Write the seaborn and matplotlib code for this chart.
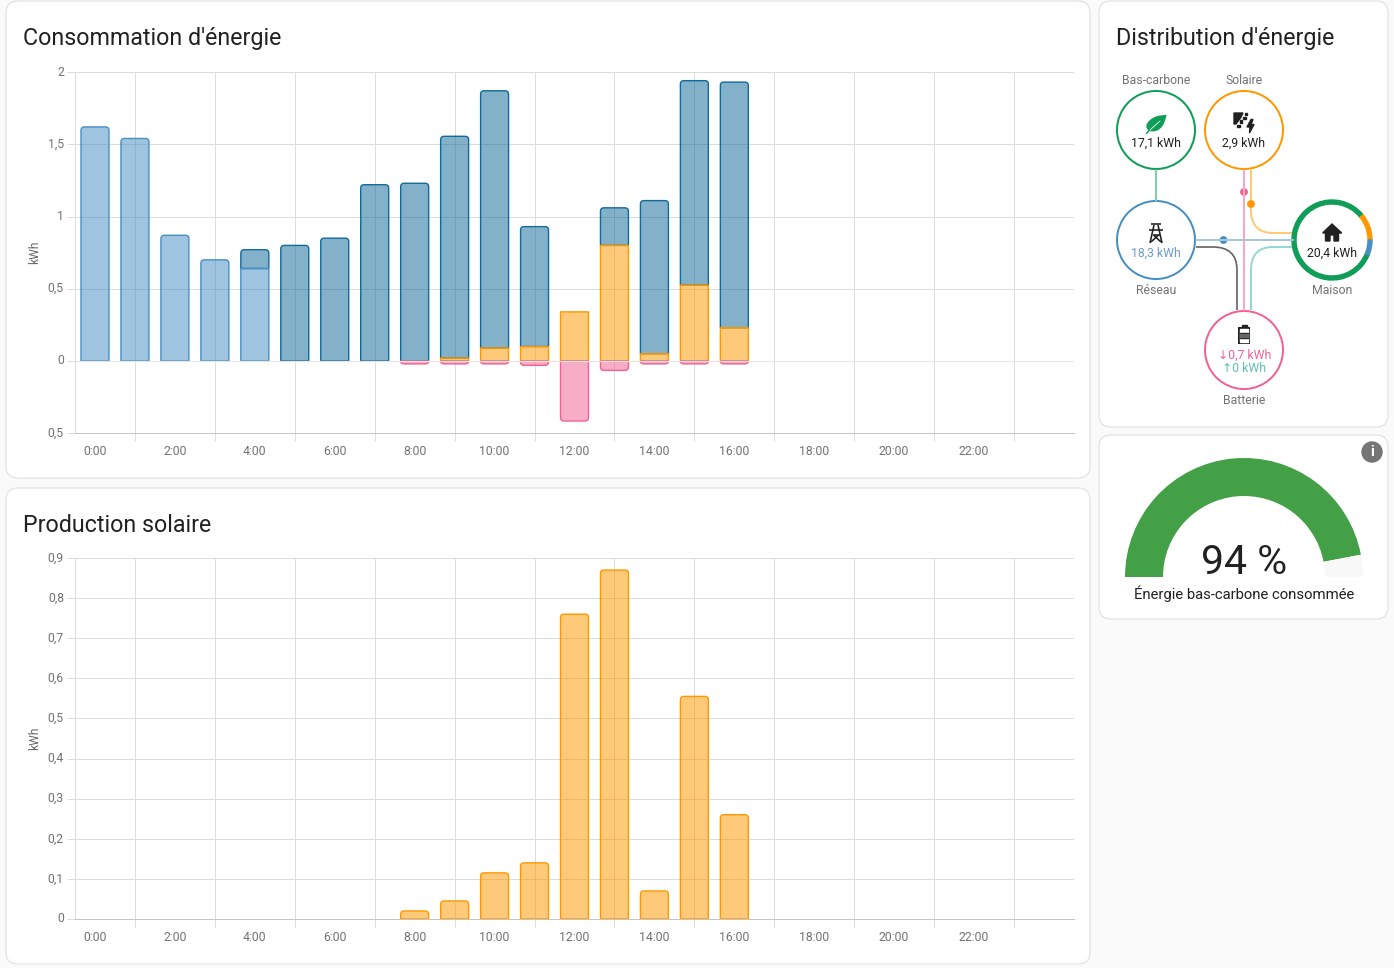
"""Energy dashboard: consumption and solar bars, distribution card and gauge."""

from __future__ import annotations

import matplotlib

matplotlib.use("Agg")

import matplotlib.pyplot as plt
import numpy as np
import pandas as pd
import seaborn as sns
from matplotlib.colors import to_rgba
from matplotlib.patches import Circle, FancyBboxPatch, PathPatch, Polygon, Rectangle, Wedge
from matplotlib.path import Path
from matplotlib.transforms import ScaledTranslation

HOURS = list(range(25))
TICK_HOURS = list(range(0, 24, 2))

# kWh per hour (0:00 to 16:00)
grid_light = [1.62, 1.54, 0.87, 0.70, 0.64, 0, 0, 0, 0, 0, 0, 0, 0, 0, 0, 0, 0]
grid_dark = [0, 0, 0, 0, 0.13, 0.80, 0.85, 1.22, 1.23, 1.535, 1.78, 0.83, 0, 0.26, 1.06, 1.415, 1.70]
solar_used = [0, 0, 0, 0, 0, 0, 0, 0, 0, 0.02, 0.09, 0.10, 0.34, 0.80, 0.05, 0.525, 0.23]
battery_in = [0, 0, 0, 0, 0, 0, 0, 0, -0.02, -0.02, -0.02, -0.03, -0.415, -0.065, -0.02, -0.02, -0.02]
solar_total = [0, 0, 0, 0, 0, 0, 0, 0, 0.02, 0.045, 0.115, 0.14, 0.76, 0.87, 0.07, 0.555, 0.26]

usage_ticks = [-0.5, 0, 0.5, 1, 1.5, 2]
usage_tick_labels = ["0,5", "0", "0,5", "1", "1,5", "2"]
solar_ticks = [0, 0.1, 0.2, 0.3, 0.4, 0.5, 0.6, 0.7, 0.8, 0.9]
solar_tick_labels = ["0", "0,1", "0,2", "0,3", "0,4", "0,5", "0,6", "0,7", "0,8", "0,9"]

low_carbon_share = 94

BLUE = "#488fc2"
DARK_BLUE = "#126a9a"
ORANGE = "#ff9800"
PINK = "#f06292"
GREEN = "#0f9d58"
GRID = "#dcdcdc"
TEXT = "#212121"
MUTED = "#727272"
W, H = 1394, 968

sns.set_theme(style="white")
plt.rcParams["font.family"] = ["Roboto", "DejaVu Sans"]


def px(size: float) -> float:
    return size * 0.72


def rounded_bar(x0, x1, y0, y1, rx, ry) -> Path:
    # corners rounded on the y1 side only
    sign = 1 if y1 > y0 else -1
    ry = min(ry, abs(y1 - y0)) * sign
    verts = [(x0, y0), (x0, y1 - ry), (x0, y1), (x0 + rx, y1), (x1 - rx, y1), (x1, y1), (x1, y1 - ry), (x1, y0), (x0, y0)]
    codes = [Path.MOVETO, Path.LINETO, Path.CURVE3, Path.CURVE3, Path.LINETO, Path.CURVE3, Path.CURVE3, Path.LINETO, Path.CLOSEPOLY]
    return Path(verts, codes)


def draw_layer(ax, values, bottoms, color, ry_unit, rounded=None, zorder=2):
    values = np.array(values, dtype=float)
    bottoms = np.array(bottoms, dtype=float)
    hours = np.arange(len(values))
    mask = values != 0
    frame = pd.DataFrame({"hour": hours[mask], "kwh": values[mask]})
    before = len(ax.patches)
    sns.barplot(data=frame, x="hour", y="kwh", order=HOURS, width=0.7, color=color, errorbar=None, ax=ax)
    flags = rounded[mask] if rounded is not None else np.ones(mask.sum(), dtype=bool)
    for bar, flag, base in zip(list(ax.patches[before:]), flags, bottoms[mask]):
        x0, x1 = bar.get_x(), bar.get_x() + bar.get_width()
        y0, y1 = base, base + bar.get_height()
        bar.remove()
        radius = 3.5 if flag else 0
        path = rounded_bar(x0, x1, y0, y1, radius / 40, radius * ry_unit)
        ax.add_patch(PathPatch(path, facecolor=to_rgba(color, 0.52), edgecolor=color, linewidth=px(1.4), zorder=zorder))


def style_axis(ax, ticks, labels, ymin, ymax):
    ax.set_facecolor("none")
    ax.set_xlim(-0.5, 24.5)
    ax.set_ylim(ymin, ymax)
    ax.set_xticks(TICK_HOURS)
    ax.set_xticklabels([f"{h}:00" for h in TICK_HOURS], fontsize=px(12.2), color=MUTED)
    ax.set_xticks(range(1, 24, 2), minor=True)
    ax.set_yticks(ticks)
    ax.set_yticklabels(labels, fontsize=px(12.2), color=MUTED)
    ax.tick_params(axis="x", which="major", length=0, pad=px(12))
    ax.tick_params(axis="x", which="minor", length=px(8), width=px(1), color=GRID, bottom=True)
    ax.tick_params(axis="y", length=px(8), width=px(1), color=GRID, left=True, pad=px(3))
    lift = ScaledTranslation(0, 1.5 / 100, ax.figure.dpi_scale_trans)
    for label in ax.get_yticklabels():
        label.set_transform(label.get_transform() + lift)
    ax.set_axisbelow(True)
    ax.grid(True, axis="y", which="major", color=GRID, linewidth=px(1))
    ax.grid(True, axis="x", which="minor", color=GRID, linewidth=px(1))
    ax.grid(False, axis="x", which="major")
    ax.set_xlabel("")
    ax.set_ylabel("kWh", fontsize=px(12), color="#666666", labelpad=0)
    ax.yaxis.set_label_coords(-34 / 999, 0.5)
    for side in ("top", "right"):
        ax.spines[side].set_visible(False)
    ax.spines["left"].set_color(GRID)
    ax.spines["left"].set_linewidth(px(1))
    ax.spines["bottom"].set_color("#c4c4c4")
    ax.spines["bottom"].set_linewidth(px(1))


def card(bg, x0, y0, x1, y1):
    r = 12
    bg.add_patch(FancyBboxPatch((x0 + r, y0 + r), x1 - x0 - 2 * r, y1 - y0 - 2 * r, boxstyle=f"round,pad={r}", facecolor="white", edgecolor="#e2e2e2", linewidth=px(1.2)))


def flow(bg, points, color, lw=2.0):
    # line, quadratic corner, line
    a, corner_in, ctrl, corner_out, b = points
    path = Path([a, corner_in, ctrl, corner_out, b], [Path.MOVETO, Path.LINETO, Path.CURVE3, Path.CURVE3, Path.LINETO])
    bg.add_patch(PathPatch(path, facecolor="none", edgecolor=color, linewidth=px(lw)))


figure = plt.figure(figsize=(W / 100, H / 100), dpi=100, facecolor="#fafafa")
bg = figure.add_axes([0, 0, 1, 1], zorder=0)
bg.set_xlim(0, W)
bg.set_ylim(H, 0)
bg.axis("off")

card(bg, 6, 1, 1090, 478)
card(bg, 6, 488, 1090, 964)
card(bg, 1099, 1, 1388, 427)
card(bg, 1099, 435, 1388, 619)

bg.text(23, 39, "Consommation d'énergie", fontsize=px(23.3), color=TEXT, va="center")
bg.text(23, 526, "Production solaire", fontsize=px(23.3), color=TEXT, va="center")
bg.text(1116, 39, "Distribution d'énergie", fontsize=px(23.3), color=TEXT, va="center")

# consumption chart
usage_ax = figure.add_axes([75 / W, 1 - 433.25 / H, 999 / W, 361.25 / H], zorder=1)
dark = np.array(grid_dark)
light = np.array(grid_light)
solar = np.array(solar_used)
zeros = np.zeros(len(light))
draw_layer(usage_ax, dark, light + solar, DARK_BLUE, 1 / 144.5, zorder=2)
draw_layer(usage_ax, light, zeros, BLUE, 1 / 144.5, rounded=dark == 0, zorder=3)
draw_layer(usage_ax, solar, zeros, ORANGE, 1 / 144.5, rounded=np.zeros(len(solar), dtype=bool), zorder=3)
draw_layer(usage_ax, battery_in, zeros, PINK, 1 / 144.5, zorder=3)
style_axis(usage_ax, usage_ticks, usage_tick_labels, -0.5, 2)
usage_ax.axhline(0, color="#e6e6e6", linewidth=px(1.2), zorder=4)

# solar chart
solar_ax = figure.add_axes([75 / W, 1 - 919 / H, 999 / W, 361 / H], zorder=1)
draw_layer(solar_ax, solar_total, zeros, ORANGE, 1 / 401)
style_axis(solar_ax, solar_ticks, solar_tick_labels, 0, 0.9)

# distribution card, everything in pixel coordinates
over = figure.add_axes([0, 0, 1, 1], zorder=2)
over.set_xlim(0, W)
over.set_ylim(H, 0)
over.axis("off")
over.patch.set_alpha(0)

over.plot([1156, 1156], [170, 201], color="#7fcfa8", linewidth=px(2))
over.plot([1244, 1244], [170, 310], color="#f8a8c4", linewidth=px(2))
flow(over, [(1251, 170), (1251, 210), (1251, 233), (1273, 233), (1293, 233)], "#ffc977")
flow(over, [(1196, 247), (1213, 247), (1237, 247), (1237, 270), (1237, 310)], "#666666", lw=1.7)
flow(over, [(1251, 310), (1251, 270), (1251, 247), (1273, 247), (1293, 247)], "#96d8d0")
over.plot([1196, 1293], [240, 240], color="#a3c7e0", linewidth=px(2))
over.add_patch(Circle((1244, 192), 3.2, color=PINK))
over.add_patch(Circle((1251, 204), 3.2, color=ORANGE))
over.add_patch(Circle((1223.5, 240), 3.2, color=BLUE))

for (cx, cy), color in [((1156, 130), GREEN), ((1244, 130), ORANGE), ((1156, 240), BLUE), ((1244, 350), PINK)]:
    over.add_patch(Circle((cx, cy), 39, facecolor="white", edgecolor=color, linewidth=px(2)))
over.add_patch(Wedge((1332, 240), 40, 22, 321, width=4, color=GREEN))
over.add_patch(Wedge((1332, 240), 40, -39, 0, width=4, color=ORANGE))
over.add_patch(Wedge((1332, 240), 40, 0, 22, width=4, color=BLUE))

labels = [
    (1156, 80, "Bas-carbone", MUTED),
    (1244, 80, "Solaire", MUTED),
    (1156, 290, "Réseau", MUTED),
    (1332, 290, "Maison", MUTED),
    (1244, 400, "Batterie", MUTED),
    (1156, 143, "17,1 kWh", TEXT),
    (1244, 143, "2,9 kWh", TEXT),
    (1156, 253, "18,3 kWh", "#6a9ccc"),
    (1332, 253, "20,4 kWh", TEXT),
    (1244.5, 355, "↓0,7 kWh", PINK),
    (1244.5, 369, "↑0 kWh", "#5fbfb4"),
]
for x, y, text, color in labels:
    over.text(x, y, text, fontsize=px(12.2), color=color, ha="center", va="center")

# leaf
leaf = Path(
    [(1166.5, 115), (1155, 115), (1150, 120), (1143, 126), (1149, 131), (1163, 134), (1166.5, 115), (1166.5, 115)],
    [Path.MOVETO, Path.CURVE3, Path.CURVE3, Path.CURVE3, Path.CURVE3, Path.CURVE3, Path.CURVE3, Path.CLOSEPOLY],
)
over.add_patch(PathPatch(leaf, facecolor=GREEN, edgecolor="none"))
over.plot([1146.5, 1150], [133.5, 129.5], color=GREEN, linewidth=px(1.5))
over.plot([1150, 1160], [130, 121], color="white", linewidth=px(0.8))

# solar panel and bolt
icon_dark = "#212121"
over.add_patch(Polygon([(1234, 113), (1243, 113), (1240.5, 118), (1236, 124), (1234, 124)], color=icon_dark))
for dot in [(1246, 114), (1244.5, 118), (1241, 121.5), (1238.5, 126)]:
    over.add_patch(Rectangle((dot[0] - 1.1, dot[1] - 1.1), 2.2, 2.2, color=icon_dark))
over.add_patch(Polygon([(1251, 119.5), (1247, 127), (1250, 127), (1249.5, 133), (1254, 124.5), (1251, 124.5), (1253, 119.5)], color=icon_dark))

# grid tower
tower = [
    [(1151, 224), (1161, 224)], [(1148.5, 229.5), (1163, 229.5)], [(1154, 225), (1150, 243)], [(1158, 225), (1162, 243)],
    [(1152.5, 234.5), (1159.5, 234.5)], [(1151, 242), (1158.5, 235)], [(1161, 242), (1153.5, 235)],
]
for seg in tower:
    over.plot(*zip(*seg), color=icon_dark, linewidth=px(1.6), solid_capstyle="butt")

# home
over.add_patch(Polygon([(1322.7, 233), (1332, 224), (1341.7, 233), (1338.5, 233), (1338.5, 241), (1334, 241), (1334, 235), (1330, 235), (1330, 241), (1325.5, 241), (1325.5, 233)], color=icon_dark))

# battery
over.add_patch(Rectangle((1241.5, 325), 5, 2.5, color=icon_dark))
over.add_patch(FancyBboxPatch((1238.5, 327.5), 11, 16, boxstyle="round,pad=0.5", facecolor=icon_dark, edgecolor="none"))
over.add_patch(Rectangle((1240, 329), 8, 13, color="white"))
over.add_patch(Rectangle((1240, 333), 8, 5, color=icon_dark))
over.add_patch(Rectangle((1240, 334), 8, 3, color="#666666"))

# gauge
center = (1244, 577)
angle = 180 + 180 * low_carbon_share / 100
over.add_patch(Wedge(center, 119, 180, angle, width=38, color="#43a047", linewidth=0))
over.add_patch(Wedge(center, 119, angle, 360, width=38, color="#f8f8f8", linewidth=0))
over.text(1244, 562, f"{low_carbon_share} %", fontsize=px(41), color=TEXT, ha="center", va="center")
over.text(1244, 594, "Énergie bas-carbone consommée", fontsize=px(14.95), color=TEXT, ha="center", va="center")
over.add_patch(Circle((1372, 452), 10, color="#757575"))
over.text(1372, 452.5, "i", fontsize=px(15), fontweight="bold", color="white", ha="center", va="center")

figure.savefig("out.png", dpi=100, facecolor=figure.get_facecolor())
plt.close(figure)
